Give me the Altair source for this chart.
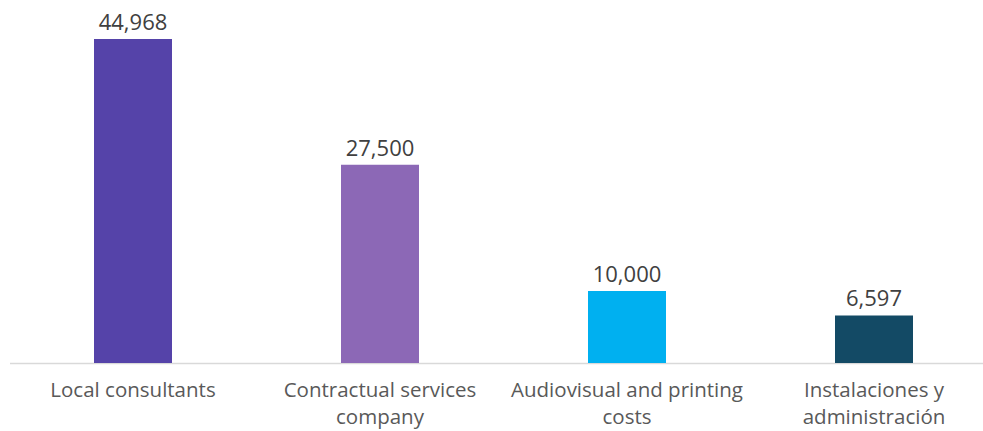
import altair as alt
import pandas as pd

categories = ["Local consultants", "Contractual services company",
              "Audiovisual and printing costs", "Instalaciones y administración"]
label_lines = [["Local consultants"], ["Contractual services", "company"],
               ["Audiovisual and printing", "costs"], ["Instalaciones y", "administración"]]
values = [44968, 27500, 10000, 6597]
colors = ["#5543A9", "#8C68B6", "#00B0F0", "#134A65"]

df = pd.DataFrame({"cat": categories, "value": values, "color": colors})

mapping = "{" + ",".join(
    '"%s": %s' % (c, "[" + ",".join('"%s"' % l for l in ls) + "]")
    for c, ls in zip(categories, label_lines)) + "}"
label_expr = mapping + "[datum.value]"

FONT = "Open Sans"

x = alt.X("cat:N", sort=categories, title=None,
          scale=alt.Scale(range=[9.5, 997.5], paddingInner=0.684, paddingOuter=0.342),
          axis=alt.Axis(labelExpr=label_expr, labelAngle=0, labelFontSize=20.5,
                        labelFont=FONT, labelColor="#595959", labelPadding=17,
                        labelLineHeight=27, ticks=False, domainColor="#D9D9D9",
                        domainWidth=1.5, labelLimit=400))
y = alt.Y("value:Q", title=None, scale=alt.Scale(domain=[0, 50381], nice=False),
          axis=None)

bars = alt.Chart(df).mark_bar(size=78).encode(
    x=x, y=y, color=alt.Color("color:N", scale=None))
text = alt.Chart(df).mark_text(dy=-16, fontSize=22, font=FONT, color="#404040").encode(
    x=alt.X("cat:N", sort=categories), y="value:Q",
    text=alt.Text("value:Q", format=","))

chart = (bars + text).properties(
    width=983, height=363,
    autosize=alt.AutoSizeParams(type="none"),
    padding={"left": 0, "top": 0, "right": 0, "bottom": 68},
).configure_view(stroke=None)

chart.save("out.html", embed_options={"renderer": "svg", "actions": False})
